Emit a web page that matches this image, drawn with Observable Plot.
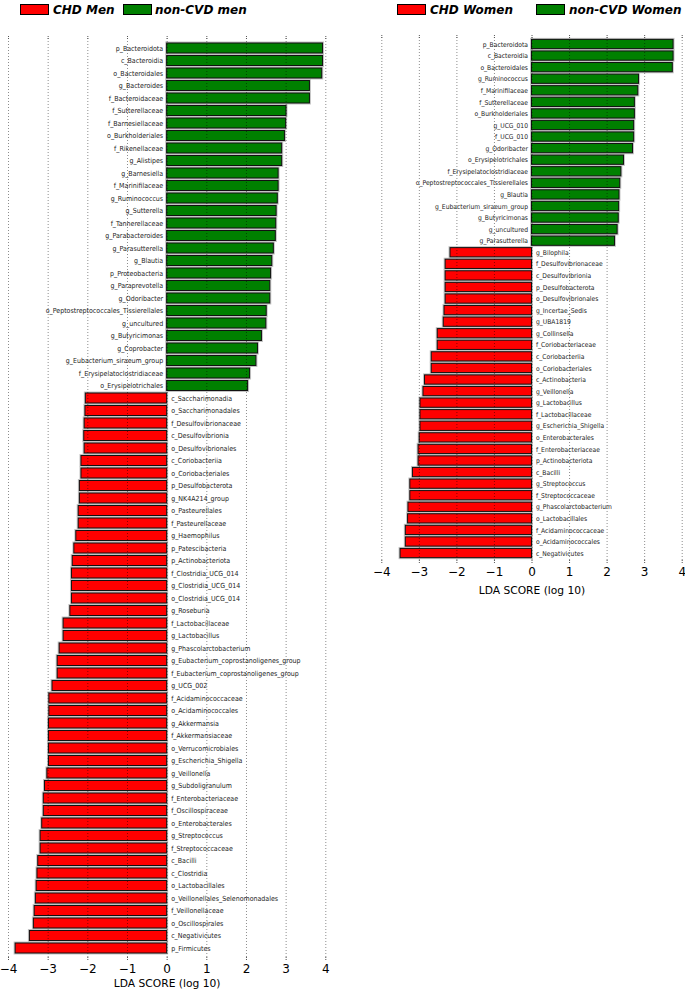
<!DOCTYPE html>
<html>
<head>
<meta charset="utf-8">
<script src="https://cdn.jsdelivr.net/npm/d3@7"></script>
<script src="https://cdn.jsdelivr.net/npm/@observablehq/plot@0.6"></script>
<style>
  html, body { margin: 0; padding: 0; background: #fff; }
  #root { position: relative; width: 685px; height: 991px; background: #fff; overflow: hidden; }
  .leg { position: absolute; top: 2px; font-family: "DejaVu Sans", sans-serif; font-style: italic; font-weight: bold; font-size: 12px; line-height: 16px; color: #000; white-space: nowrap; }
  .sw { position: absolute; top: 4px; height: 9px; border: 1px solid #000; }
  .pl { position: absolute; top: 30px; }
</style>
</head>
<body>
<div id="root">
  <div class="sw" style="left:20px;width:27px;background:#ff0000"></div>
  <div class="leg" style="left:53px">CHD Men</div>
  <div class="sw" style="left:123px;width:27px;background:#008000"></div>
  <div class="leg" style="left:155px">non-CVD men</div>
  <div class="sw" style="left:397px;width:27px;background:#ff0000"></div>
  <div class="leg" style="left:430px">CHD Women</div>
  <div class="sw" style="left:536px;width:27px;background:#008000"></div>
  <div class="leg" style="left:569px">non-CVD Women</div>
  <div id="left" class="pl" style="left:0px"></div>
  <div id="right" class="pl" style="left:360px"></div>
</div>
<script>
const xTicks = [-4, -3, -2, -1, 0, 1, 2, 3, 4];
const axisTitle = "LDA SCORE (log 10)";

const menNames = [
  "p_Bacteroidota","c_Bacteroidia","o_Bacteroidales","g_Bacteroides","f_Bacteroidaceae",
  "f_Sutterellaceae","f_Barnesiellaceae","o_Burkholderiales","f_Rikenellaceae","g_Alistipes",
  "g_Barnesiella","f_Marinifilaceae","g_Ruminococcus","g_Sutterella","f_Tannerellaceae",
  "g_Parabacteroides","g_Parasutterella","g_Blautia","p_Proteobacteria","g_Paraprevotella",
  "g_Odoribacter","o_Peptostreptococcales_Tissierellales","g_uncultured","g_Butyricimonas","g_Coprobacter",
  "g_Eubacterium_siraeum_group","f_Erysipelatoclostridiaceae","o_Erysipelotrichales",
  "c_Saccharimonadia","o_Saccharimonadales","f_Desulfovibrionaceae","c_Desulfovibrionia","o_Desulfovibrionales",
  "c_Coriobacteriia","o_Coriobacteriales","p_Desulfobacterota","g_NK4A214_group","o_Pasteurellales",
  "f_Pasteurellaceae","g_Haemophilus","p_Patescibacteria","p_Actinobacteriota","f_Clostridia_UCG_014",
  "g_Clostridia_UCG_014","o_Clostridia_UCG_014","g_Roseburia","f_Lactobacillaceae","g_Lactobacillus",
  "g_Phascolarctobacterium","g_Eubacterium_coprostanoligenes_group","f_Eubacterium_coprostanoligenes_group","g_UCG_002","f_Acidaminococcaceae",
  "o_Acidaminococcales","g_Akkermansia","f_Akkermansiaceae","o_Verrucomicrobiales","g_Escherichia_Shigella",
  "g_Veillonella","g_Subdoligranulum","f_Enterobacteriaceae","f_Oscillospiraceae","o_Enterobacterales",
  "g_Streptococcus","f_Streptococcaceae","c_Bacilli","c_Clostridia","o_Lactobacillales",
  "o_Veillonellales_Selenomonadales","f_Veillonellaceae","o_Oscillospirales","c_Negativicutes","p_Firmicutes"
];
const menValues = [
  3.93,3.93,3.91,3.60,3.60,3.01,3.00,2.97,2.90,2.90,2.81,2.81,2.79,2.76,2.75,2.74,2.69,2.65,2.62,2.60,
  2.60,2.51,2.50,2.39,2.29,2.25,2.09,2.04,
  -2.05,-2.06,-2.08,-2.09,-2.08,-2.16,-2.16,-2.20,-2.20,-2.23,-2.23,-2.29,-2.34,-2.38,-2.40,
  -2.40,-2.40,-2.44,-2.61,-2.61,-2.71,-2.76,-2.76,-2.89,-2.97,-2.97,-2.98,-2.98,-2.98,-2.98,
  -3.02,-3.08,-3.11,-3.11,-3.15,-3.19,-3.19,-3.25,-3.27,-3.29,-3.31,-3.34,-3.36,-3.46,-3.82
];

const womenNames = [
  "p_Bacteroidota","c_Bacteroidia","o_Bacteroidales","g_Ruminococcus","f_Marinifilaceae",
  "f_Sutterellaceae","o_Burkholderiales","g_UCG_010","f_UCG_010","g_Odoribacter",
  "o_Erysipelotrichales","f_Erysipelatoclostridiaceae","o_Peptostreptococcales_Tissierellales","g_Blautia","g_Eubacterium_siraeum_group",
  "g_Butyricimonas","g_uncultured","g_Parasutterella",
  "g_Bilophila","f_Desulfovibrionaceae","c_Desulfovibrionia","p_Desulfobacterota","o_Desulfovibrionales",
  "g_Incertae_Sedis","g_UBA1819","g_Collinsella","f_Coriobacteriaceae","c_Coriobacteriia",
  "o_Coriobacteriales","c_Actinobacteria","g_Veillonella","g_Lactobacillus","f_Lactobacillaceae",
  "g_Escherichia_Shigella","o_Enterobacterales","f_Enterobacteriaceae","p_Actinobacteriota","c_Bacilli",
  "g_Streptococcus","f_Streptococcaceae","g_Phascolarctobacterium","o_Lactobacillales","f_Acidaminococcaceae",
  "o_Acidaminococcales","c_Negativicutes"
];
const womenValues = [
  3.77,3.77,3.75,2.85,2.83,2.74,2.74,2.72,2.72,2.69,2.45,2.38,2.35,2.33,2.32,2.31,2.28,2.21,
  -2.17,-2.30,-2.30,-2.30,-2.30,-2.33,-2.35,-2.51,-2.51,-2.67,-2.67,-2.85,-2.89,-2.97,-2.97,
  -2.97,-2.99,-3.02,-3.02,-3.17,-3.24,-3.24,-3.29,-3.30,-3.36,-3.36,-3.50
];

const fmt = d => d < 0 ? "\u2212" + (-d) : String(d);

function panel(names, values, o) {
  const data = names.map((n, i) => ({name: n, v: values[i]}));
  return Plot.plot({
    width: o.width, height: o.height,
    marginLeft: o.ml, marginRight: o.mr, marginTop: o.mt, marginBottom: o.mb,
    style: {fontFamily: "DejaVu Sans, sans-serif", fontSize: "12px", background: "transparent", color: "#000"},
    x: {domain: [-4, 4], ticks: xTicks, tickFormat: fmt},
    y: {type: "band", domain: names, range: o.yRange, padding: 0.2, round: false, axis: null},
    marks: [
      Plot.barX(data, {x: "v", y: "name", fill: "none", stroke: "#c4c4c4", strokeWidth: 3}),
      Plot.barX(data, {x: "v", y: "name", fill: d => d.v > 0 ? "#008000" : "#ff0000", stroke: "#111", strokeWidth: 1}),
      Plot.ruleX(xTicks, {stroke: "#000", strokeOpacity: 0.45, strokeDasharray: "1,2", strokeWidth: 1}),
      Plot.text(data.filter(d => d.v > 0), {x: 0, y: "name", text: "name", textAnchor: "end", dx: -4,
        fontFamily: "DejaVu Sans Condensed, DejaVu Sans, sans-serif", fontSize: o.fs, fill: "#222"}),
      Plot.text(data.filter(d => d.v < 0), {x: 0, y: "name", text: "name", textAnchor: "start", dx: 4,
        fontFamily: "DejaVu Sans Condensed, DejaVu Sans, sans-serif", fontSize: o.fs, fill: "#222"}),
      Plot.axisX(xTicks, {anchor: "bottom", tickSize: 4, tickPadding: 3, tickFormat: fmt, label: null, stroke: "#555", strokeDasharray: "1,1"}),
      Plot.axisX(xTicks, {anchor: "top", tickSize: 4, tickFormat: () => "", label: null, stroke: "#555", strokeDasharray: "1,1"}),
      Plot.text([axisTitle], {frameAnchor: "bottom", text: d => d, dy: o.titleDy, lineAnchor: "middle", fontSize: 10.7})
    ]
  });
}

document.getElementById("left").appendChild(panel(menNames, menValues, {
  width: 340, height: 961, ml: 8, mr: 14.7, mt: 8, mb: 34,
  yRange: [10.5, 925.5], fs: 7, titleDy: 26
}));
document.getElementById("right").appendChild(panel(womenNames, womenValues, {
  width: 325, height: 570, ml: 21.3, mr: 3.3, mt: 7, mb: 40,
  yRange: [7.06, 530], fs: 6.7, titleDy: 30
}));
</script>
</body>
</html>
